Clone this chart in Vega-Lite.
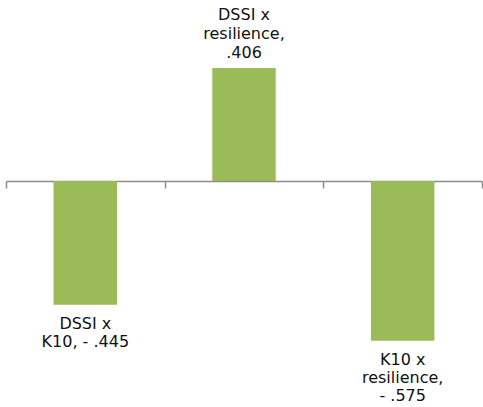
{
  "$schema": "https://vega.github.io/schema/vega-lite/v6.json",
  "autosize": "none",
  "width": 476,
  "height": 407,
  "padding": {"left": 6, "top": 0, "right": 1, "bottom": 0},
  "background": "white",
  "config": {"view": {"stroke": null}},
  "data": {
    "values": [
      {"pair": "DSSI x K10", "r": -0.445, "label": ["DSSI x", "K10, - .445"]},
      {"pair": "DSSI x resilience", "r": 0.406, "label": ["DSSI x", "resilience,", ".406"]},
      {"pair": "K10 x resilience", "r": -0.575, "label": ["K10 x", "resilience,", "- .575"]}
    ]
  },
  "encoding": {
    "x": {
      "field": "pair",
      "type": "nominal",
      "sort": null,
      "scale": {"paddingInner": 0, "paddingOuter": 0},
      "axis": {
        "title": null,
        "labels": false,
        "orient": "bottom",
        "offset": -226,
        "tickBand": "extent",
        "tickSize": 7,
        "tickColor": "#8c8c8c",
        "domainColor": "#8c8c8c",
        "tickWidth": 1.5,
        "domainWidth": 1.5
      }
    },
    "y": {
      "field": "r",
      "type": "quantitative",
      "scale": {"domain": [-0.813, 0.651], "nice": false, "zero": true},
      "axis": null
    }
  },
  "layer": [
    {"mark": {"type": "bar", "color": "#9BBB59", "width": {"band": 0.4}}},
    {
      "transform": [{"filter": "datum.r > 0"}],
      "mark": {"type": "text", "baseline": "bottom", "dy": -45, "font": "DejaVu Sans", "fontSize": 16, "lineHeight": 19, "color": "#111111"},
      "encoding": {"text": {"field": "label"}}
    },
    {
      "transform": [{"filter": "datum.r < 0"}],
      "mark": {"type": "text", "baseline": "top", "dy": 11, "font": "DejaVu Sans", "fontSize": 16, "lineHeight": 18, "color": "#111111"},
      "encoding": {"text": {"field": "label"}}
    }
  ]
}
